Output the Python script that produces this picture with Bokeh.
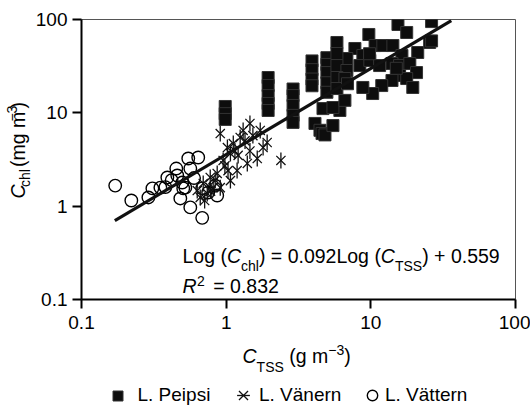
import math
import numpy as np
from bokeh.plotting import figure
from bokeh.layouts import row, column
from bokeh.models import (FixedTicker, CustomJSTickFormatter, Label, Legend, LegendItem, Range1d)
from bokeh.embed import file_html
from bokeh.resources import INLINE

# ---------------- data ----------------
peipsi_x = [0.985, 0.985, 0.985,
            1.95, 1.95, 1.95, 1.95, 1.95,
            2.9, 2.9, 2.9, 2.9, 2.9,
            3.92, 3.92, 3.92, 3.92,
            4.97, 4.97, 4.97, 4.97, 4.97,
            4.67, 4.11, 4.45, 4.6, 4.82, 5.47, 6.11, 5.47, 6.62,
            15.4, 26.3, 17.7, 9.69, 25.5, 21.1, 5.83, 7.76, 10.7, 12.1, 14.2, 16.4,
            8.81, 6.83, 5.83, 5.83, 6.83, 8.40, 9.84, 11.5, 14.0, 15.8, 18.6, 20.7,
            15.8, 17.7, 19.5, 14.0, 11.9, 10.3, 8.81, 5.83, 6.62, 5.83, 6.9, 9.8,
            15.0, 26.3]
peipsi_y = [11.7, 9.8, 8.5,
            23.9, 19.6, 15.3, 12.6, 10.6,
            18.0, 15.3, 12.0, 9.4, 7.9,
            36.0, 29.0, 23.0, 19.5,
            39.0, 33.0, 27.0, 21.0, 16.6,
            11.1, 7.7, 6.5, 6.0, 5.8, 7.3, 10.6, 11.4, 13.6,
            88.4, 95.0, 72.6, 69.1, 56.7, 44.3, 56.7, 48.9, 52.6, 52.6, 52.6, 41.1,
            41.1, 38.2, 43.2, 32.1, 28.4, 32.1, 36.4, 32.1, 33.8, 32.1, 33.8, 27.0,
            25.1, 23.3, 18.7, 22.2, 19.6, 16.1, 18.7, 23.9, 23.3, 18.2, 20.5, 43.0,
            30.0, 59.0]

vanern_x = [0.91, 1.46, 1.31, 1.92, 2.39, 1.64, 1.40, 1.19, 1.07, 1.02, 0.953,
            0.867, 0.776, 0.694, 0.631, 0.74, 0.813, 1.12, 1.25, 1.72, 1.80,
            1.07, 0.91, 0.662, 1.15, 1.35, 1.21, 0.98, 0.84, 1.46, 1.03, 0.71,
            0.78, 1.53]
vanern_y = [6.0, 7.69, 6.47, 4.81, 3.09, 3.24, 2.87, 2.41, 3.67, 4.25, 3.09,
            2.24, 2.03, 1.75, 1.47, 1.37, 1.58, 4.69, 5.44, 6.47, 4.25,
            1.88, 1.58, 1.24, 3.9, 5.0, 3.5, 2.7, 1.9, 3.9, 2.4, 1.15,
            1.45, 5.7]

vattern_x = [0.171, 0.221, 0.290, 0.309, 0.351, 0.392, 0.452, 0.459, 0.497, 0.505,
             0.547, 0.641, 0.565, 0.482, 0.565, 0.683, 0.683, 0.751, 0.867, 0.840,
             0.522, 0.60, 0.42, 0.38]
vattern_y = [1.66, 1.15, 1.24, 1.55, 1.58, 2.03, 2.53, 2.13, 1.79, 1.55,
             3.24, 3.32, 2.53, 1.21, 0.97, 0.75, 1.55, 1.40, 1.30, 1.66,
             1.58, 2.0, 1.9, 1.6]

fit_x = [0.17, 36.0]
fit_y = [0.70, 97.0]

axis_ticks = [0.1, 1, 10, 100]
legend_labels = ["L. Peipsi", "L. Vänern", "L. Vättern"]

FONT = "Liberation Sans"

# ---------------- geometry ----------------
W_, H_ = 530, 405
YL_W = 32                 # strip for the y-axis title
P_LEFT, P_RIGHT, P_TOP, P_BOT = 49, 15, 19, 42
FRAME_W, FRAME_H = 434, 280
P_W = W_ - YL_W
P_H = P_TOP + FRAME_H + P_BOT
BF_H = H_ - P_H
FL = YL_W + P_LEFT        # frame left, canvas px
FB = P_TOP + FRAME_H      # frame bottom, canvas px
MID = 0.3465              # observed label anchor offset (fraction of font size)

# ---------------- style dictionaries ----------------
sq_style = dict(marker="square", size=12, fill_color="#0d0d0d", line_color="#333333", line_width=1)
x_style = dict(marker="x", size=13, line_color="#111111", line_width=1.3)
bar_style = dict(marker="dash", size=16, angle=math.pi / 2, line_color="#111111", line_width=1.3)
ci_style = dict(marker="circle", size=12.5, fill_color=None, line_color="black", line_width=1.4)

# ---------------- main figure ----------------
p = figure(width=P_W, height=P_H, x_axis_type="log", y_axis_type="log",
           x_range=(0.1, 100), y_range=(0.1, 100),
           output_backend="svg", toolbar_location=None,
           min_border_left=P_LEFT, min_border_right=P_RIGHT,
           min_border_top=P_TOP, min_border_bottom=P_BOT)
p.grid.visible = False
p.background_fill_color = "white"
p.border_fill_color = "white"
p.outline_line_color = "#555555"
p.outline_line_width = 1

for ax in (p.xaxis[0], p.yaxis[0]):
    ax.ticker = FixedTicker(ticks=axis_ticks, minor_ticks=[])
    ax.formatter = CustomJSTickFormatter(code="return tick.toString();")
    ax.axis_line_color = "black"
    ax.axis_line_width = 2
    ax.major_tick_line_color = "black"
    ax.major_tick_line_width = 2
    ax.major_tick_out = 9
    ax.major_tick_in = 0
    ax.minor_tick_line_color = None
    ax.major_label_text_font = FONT
    ax.major_label_text_font_size = "19px"
    ax.major_label_text_color = "black"
p.xaxis[0].major_label_standoff = 7
p.yaxis[0].major_label_standoff = 5

p.scatter(vattern_x, vattern_y, **ci_style)
p.scatter(vanern_x, vanern_y, **x_style)
p.scatter(vanern_x, vanern_y, **bar_style)
p.scatter(peipsi_x, peipsi_y, **sq_style)
p.line(fit_x, fit_y, line_color="#111111", line_width=3.2)


def blank(width, height, y0, y1):
    f = figure(width=width, height=height, x_range=Range1d(0, width), y_range=Range1d(y1, y0),
               output_backend="svg", toolbar_location=None,
               x_axis_location=None, y_axis_location=None,
               min_border=0, min_border_left=0, min_border_right=0,
               min_border_top=0, min_border_bottom=0)
    f.grid.visible = False
    f.outline_line_color = None
    f.background_fill_color = "white"
    f.border_fill_color = "white"
    return f


# strip left of the plot (canvas y 0..P_H), bottom strip (canvas y P_H..H_)
yl = blank(YL_W, P_H, 0, P_H)
bf = blank(W_, BF_H, P_H, H_)

# legend: one entry each (style-only proxy renderers that draw nothing)
nan = np.array([np.nan])
proxies = [[bf.scatter(nan, nan, **sq_style)],
           [bf.scatter(nan, nan, **x_style), bf.scatter(nan, nan, **bar_style)],
           [bf.scatter(nan, nan, **ci_style)]]
glyph_cx = [117, 243, 372]
text_x = [137, 258, 384]
glyph_box = [25, 32, 26]
LEG_CY = 395
for lab, rs, gx, tx, gw in zip(legend_labels, proxies, glyph_cx, text_x, glyph_box):
    lg = Legend(items=[LegendItem(label=lab, renderers=rs)],
                location=(gx - gw / 2, H_ - (LEG_CY + gw / 2)),
                orientation="horizontal", padding=0, margin=0, spacing=0,
                glyph_width=gw, glyph_height=gw,
                label_standoff=max(0, int(round(tx - gx - gw / 2))),
                label_text_font=FONT, label_text_font_size="19px",
                label_text_color="black", border_line_color=None,
                background_fill_alpha=0)
    bf.add_layout(lg)

# ---------------- rich text helper ----------------
AW = {'L': 556, 'o': 556, 'g': 556, ' ': 278, '(': 333, ')': 333, 'C': 722, '=': 584,
      '.': 278, '+': 584, 'c': 500, 'h': 556, 'l': 222, 'T': 611, 'S': 667, 'R': 722,
      'm': 833, '\u2212': 584}
for d in "0123456789":
    AW[d] = 556


def tw(s, size):
    return sum(AW.get(ch, 556) for ch in s) * size / 1000.0


def put(fig, text, cx, cy, size, italic, angle=0.0):
    common = dict(text=text, text_font=FONT, text_font_size=f"{size}px",
                  text_font_style="italic" if italic else "normal",
                  text_color="black", text_align="left",
                  text_baseline="alphabetic", angle=angle)
    if fig is p:
        lab = Label(x=cx - FL, y=FB - cy, x_units="screen", y_units="screen", **common)
    else:
        lab = Label(x=cx, y=cy, **common)
    fig.add_layout(lab)


def runs_h(fig, runs, cx, cy):
    """runs: (text, size, baseline shift down, italic, gap before)"""
    x = cx
    for text, size, dy, italic, gap in runs:
        x += gap
        put(fig, text, x, cy + dy - MID * size, size, italic)
        x += tw(text, size)


def runs_v(fig, runs, cx, cy):
    y = cy
    for text, size, dy, italic, gap in runs:
        y -= gap
        put(fig, text, cx + dy - MID * size, y, size, italic, angle=math.pi / 2)
        y -= tw(text, size)


F, S = 19.5, 14
SP = tw(" ", F)
# x-axis title (bottom strip)
runs_h(bf, [("C", F, 0, True, 0), ("TSS", S, 9, False, 0), ("(g m", F, 0, False, SP),
            ("\u22123", S, -8, False, 0), (")", F, 0, False, 0)], 242, 362)
# y-axis title (left strip)
runs_v(yl, [("C", F, 0, True, 0), ("chl", S, 5, False, 0), ("(mg m", F, 0, False, SP + 1),
            ("\u22123", S, -8, False, 0), (")", F, 0, False, 0)], 24, 218)
# equation (inside the frame)
runs_h(p, [("Log (", F, 0, False, 0), ("C", F, 0, True, 0), ("chl", S, 8, False, 0),
           (") = 0.092Log (", F, 0, False, 0), ("C", F, 0, True, 0), ("TSS", S, 8, False, 0),
           (") + 0.559", F, 0, False, 0)], 182, 262)
runs_h(p, [("R", F, 0, True, 0), ("2", S, -7, False, 0.5), ("= 0.832", F, 0, False, SP + 3)],
       182, 292)

layout = column(row(yl, p, spacing=0), bf, spacing=0)
open("out.html", "w").write(file_html(layout, INLINE))
